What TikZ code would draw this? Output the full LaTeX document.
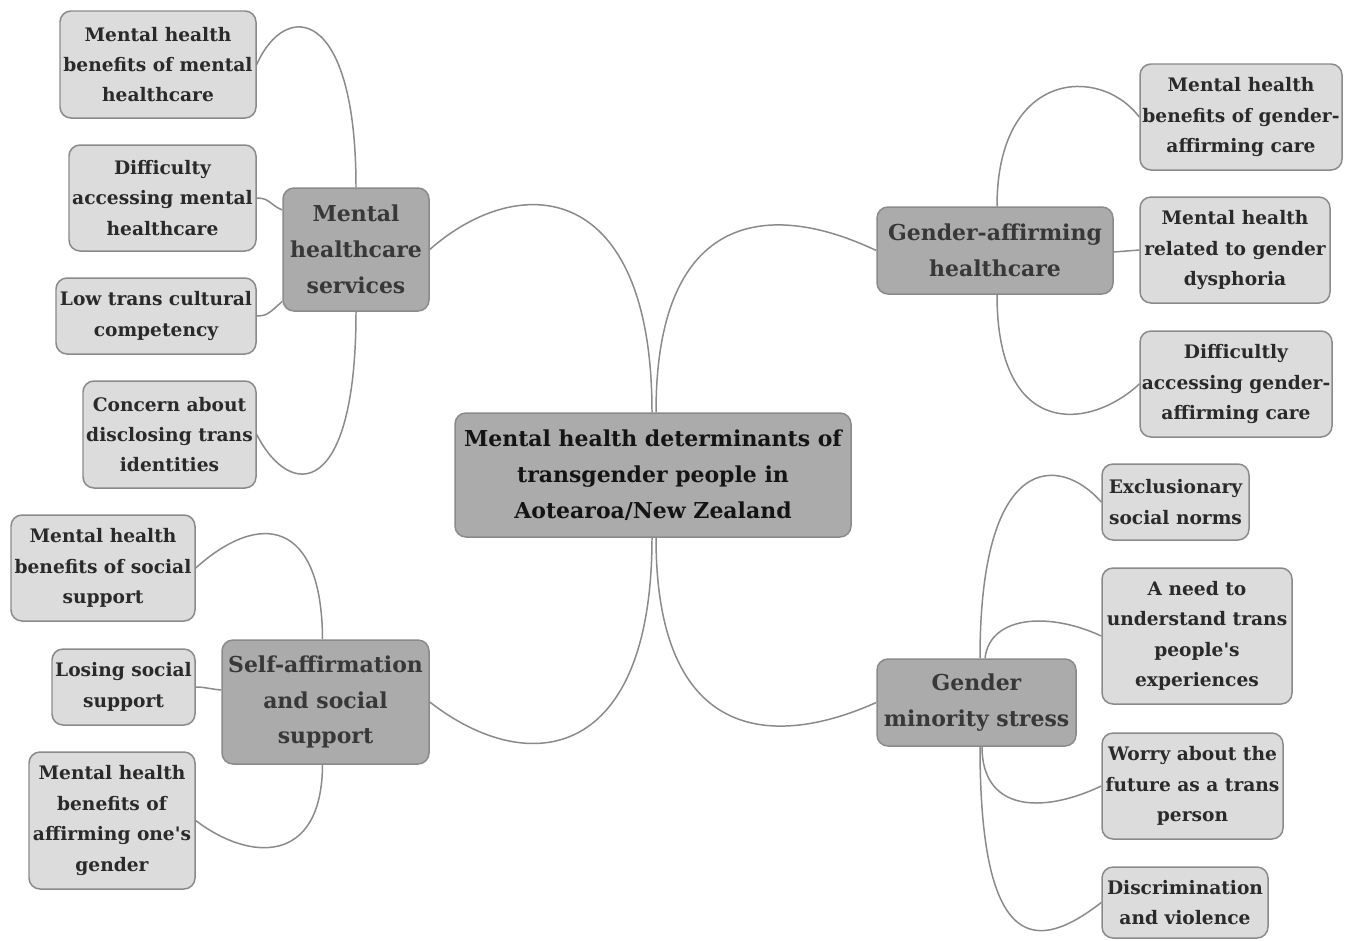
\documentclass[tikz,border=0pt]{standalone}
\usepackage{fontspec}
\setmainfont{DejaVu Serif}
\usetikzlibrary{calc}
\definecolor{leaffill}{HTML}{DCDCDC}
\definecolor{mainfill}{HTML}{ABABAB}
\definecolor{edgecol}{HTML}{8A8A8A}
\definecolor{txt}{HTML}{2A2A2A}
\begin{document}
\begin{tikzpicture}[x=0.02cm,y=-0.02cm,
  sz/.style 2 args={minimum width=#1*0.02cm, minimum height=#2*0.02cm},
  leaf/.style={draw=edgecol, fill=leaffill, line width=0.85pt, rounded corners=0.22cm,
    inner sep=0pt, align=center, text=txt, font=\bfseries\fontsize{10.6}{17.3}\selectfont},
  branch/.style={leaf, fill=mainfill, text=black!78, font=\bfseries\fontsize{12.5}{20.4}\selectfont},
  root/.style={branch, text=black!92},
  link/.style={draw=edgecol, line width=0.85pt}]
\useasboundingbox (0,0) rectangle (1351,940);

% root
\node[root, sz={396}{124}] (root) at (653,475) {Mental health determinants of\\transgender people in\\Aotearoa/New Zealand};

% branches
\node[branch, sz={146}{123}] (mhs) at (356,249.5) {Mental\\healthcare\\services};
\node[branch, sz={236}{87}] (gah) at (995,250.5) {Gender-affirming\\healthcare};
\node[branch, sz={207}{124}] (sass) at (325.5,702) {Self-affirmation\\and social\\support};
\node[branch, sz={199}{87}] (gms) at (976.5,702.5) {Gender\\minority stress};

% leaves: mental healthcare services
\node[leaf, sz={196}{107}] (l1) at (158,64.5) {Mental health\\benefits of mental\\healthcare};
\node[leaf, sz={187}{106}] (l2) at (162.5,198) {Difficulty\\accessing mental\\healthcare};
\node[leaf, sz={200}{76}] (l3) at (156,316) {Low trans cultural\\competency};
\node[leaf, sz={173}{107}] (l4) at (169.5,434.5) {Concern about\\disclosing trans\\identities};

% leaves: self-affirmation
\node[leaf, sz={184}{106}] (s1) at (103,568) {Mental health\\benefits of social\\support};
\node[leaf, sz={143}{76}] (s2) at (123.5,687) {Losing social\\support};
\node[leaf, sz={166}{137}] (s3) at (112,820.5) {Mental health\\benefits of\\affirming one\textquotesingle s\\gender};

% leaves: gender-affirming healthcare
\node[leaf, sz={202}{106}] (g1) at (1241,117) {Mental health\\benefits of gender-\\affirming care};
\node[leaf, sz={190}{106}] (g2) at (1235,250) {Mental health\\related to gender\\dysphoria};
\node[leaf, sz={192}{106}] (g3) at (1236,384) {Difficultly\\accessing gender-\\affirming care};

% leaves: gender minority stress
\node[leaf, sz={147}{76}] (m1) at (1175.5,502) {Exclusionary\\social norms};
\node[leaf, sz={190}{136}] (m2) at (1197,636) {A need to\\understand trans\\people\textquotesingle s\\experiences};
\node[leaf, sz={181}{106}] (m3) at (1192.5,786) {Worry about the\\future as a trans\\person};
\node[leaf, sz={166}{71}] (m4) at (1185,902.5) {Discrimination\\and violence};

% root connectors
\draw[link] ($(root.north)+(-1,0)$) .. controls (652,180) and (520,170) .. (mhs.east);
\draw[link] ($(root.north)+(3,0)$) .. controls (656,210) and (770,200) .. (gah.west);
\draw[link] ($(root.south)+(-1,0)$) .. controls (652,760) and (530,780) .. (sass.east);
\draw[link] ($(root.south)+(3,0)$) .. controls (656,740) and (770,750) .. (gms.west);

% mental healthcare services
\draw[link] (mhs.north) .. controls (356,5) and (285,0) .. (l1.east);
\draw[link] ($(mhs.west)+(0,-39.5)$) .. controls (270,205) and (270,198) .. (l2.east);
\draw[link] ($(mhs.west)+(0,52)$) .. controls (270,312) and (268,316) .. (l3.east);
\draw[link] (mhs.south) .. controls (356,500) and (290,500) .. (l4.east);

% self-affirmation
\draw[link] ($(sass.north)+(-3,0)$) .. controls (322,520) and (260,510) .. (s1.east);
\draw[link] ($(sass.west)+(0,-12)$) .. controls (210,689) and (205,687) .. (s2.east);
\draw[link] ($(sass.south)+(-3,0)$) .. controls (322,865) and (250,862) .. (s3.east);

% gender-affirming healthcare
\draw[link] ($(gah.north)+(2,0)$) .. controls (997,70) and (1100,65) .. (g1.west);
\draw[link] ($(gah.east)+(0,1.5)$) -- (g2.west);
\draw[link] ($(gah.south)+(2,0)$) .. controls (997,440) and (1090,430) .. (g3.west);

% gender minority stress
\draw[link] ($(gms.north)+(3.5,0)$) .. controls (980,450) and (1060,455) .. (m1.west);
\draw[link] ($(gms.north)+(8.5,0)$) .. controls (990,615) and (1050,612) .. (m2.west);
\draw[link] ($(gms.south)+(5.5,0)$) .. controls (982,810) and (1040,815) .. (m3.west);
\draw[link] ($(gms.south)+(3.5,0)$) .. controls (980,960) and (1040,950) .. (m4.west);
\end{tikzpicture}
\end{document}
